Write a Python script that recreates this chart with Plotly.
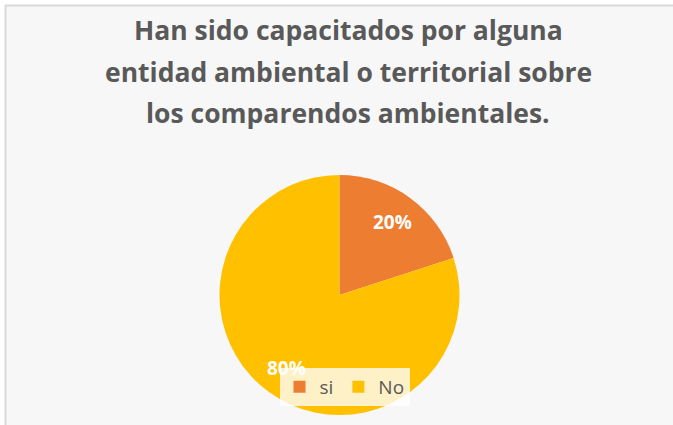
import math
import plotly.graph_objects as go

# ---- data ----
categories = ["si", "No"]
values = [20, 80]
colors = ["#ED7D31", "#FFC000"]
title_lines = [
    "Han sido capacitados por alguna",
    "entidad ambiental o territorial sobre",
    "los comparendos ambientales.",
]

W, H = 673, 425
# pie geometry (pixels)
cx, cy, r = 339.5, 295.0, 120.0

fig = go.Figure()
fig.add_trace(go.Pie(
    labels=categories,
    values=values,
    marker=dict(colors=colors, line=dict(width=0)),
    sort=False,
    direction="clockwise",
    rotation=0,
    textinfo="none",
    hoverinfo="label+percent",
    domain=dict(x=[(cx - r) / W, (cx + r) / W], y=[(H - cy - r) / H, (H - cy + r) / H]),
))

# percentage labels placed along each slice bisector
total = sum(values)
annotations = []
cum = 0
for v in values:
    mid = (cum + v / 2) / total * 2 * math.pi
    cum += v
    px = cx + 0.75 * r * math.sin(mid)
    py = cy - 0.75 * r * math.cos(mid)
    annotations.append(dict(
        x=px / W, y=1 - py / H, xref="paper", yref="paper",
        text=f"<b>{round(v / total * 100)}%</b>", showarrow=False,
        font=dict(family="Open Sans", size=19, color="white"),
        xanchor="center", yanchor="middle",
    ))

title_y = [30, 72, 113]
for line, ty in zip(title_lines, title_y):
    annotations.append(dict(
        x=348 / W, y=1 - ty / H, xref="paper", yref="paper",
        text=f"<b>{line}</b>", showarrow=False,
        font=dict(family="Open Sans", size=26.5, color="#595959"),
        xanchor="center", yanchor="middle",
    ))

fig.update_layout(
    width=W, height=H,
    margin=dict(l=0, r=0, t=0, b=0),
    paper_bgcolor="white",
    showlegend=True,
    legend=dict(
        orientation="h", x=344.5 / W, xanchor="center", y=1 - 368 / H, yanchor="top",
        bgcolor="rgba(255,255,255,0.78)",
        font=dict(family="Open Sans", size=19, color="#595959"),
        itemwidth=30,
    ),
    annotations=annotations,
    shapes=[dict(
        type="rect", xref="paper", yref="paper",
        x0=5.5 / W, x1=1.05, y0=-0.05, y1=1 - 5.5 / H,
        line=dict(color="#d9d9d9", width=2), fillcolor="#f7f7f7", layer="below",
    )],
)

fig.write_html("out.html", config={"displayModeBar": False},
               post_script="document.body.style.margin='0';")
